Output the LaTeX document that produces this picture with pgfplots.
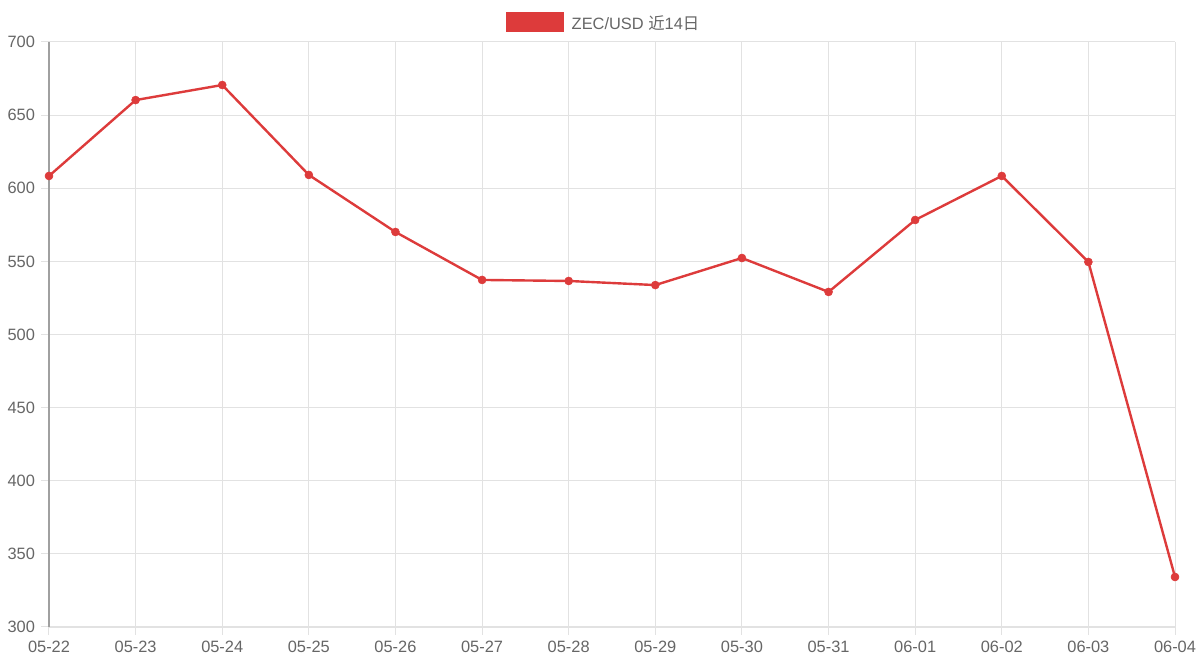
\documentclass[border=0pt]{standalone}
\usepackage{pgfplots}
\pgfplotsset{compat=1.18}
\usepackage{fontspec}
\setmainfont{Liberation Sans}
\newfontfamily\cjk{Noto Sans CJK SC}

\definecolor{zecred}{RGB}{221,59,59}
\definecolor{gridgray}{RGB}{226,226,226}
\definecolor{axisgray}{RGB}{160,160,160}
\definecolor{labelgray}{RGB}{102,102,102}

\begin{document}
\begin{tikzpicture}[x=1pt,y=1pt]
  \begin{axis}[
    at={(0,0)}, anchor=south west,
    scale only axis,
    width=844.5pt, height=438.75pt,
    xmin=0, xmax=13, ymin=300, ymax=700,
    xtick={0,...,13},
    xticklabels={05-22,05-23,05-24,05-25,05-26,05-27,05-28,05-29,05-30,05-31,06-01,06-02,06-03,06-04},
    ytick={300,350,...,700},
    axis lines*=left,
    x axis line style={gridgray, line width=0.8pt, -},
    y axis line style={axisgray, line width=0.8pt, -},
    grid=major,
    major grid style={gridgray, line width=0.75pt},
    tick align=outside,
    major tick length=6pt,
    tick style={gridgray, line width=0.75pt},
    tick label style={font=\fontsize{12.3}{14}\selectfont, text=labelgray},
    /pgf/number format/assume math mode=true,
    yticklabel style={xshift=-1pt},
    xticklabel style={yshift=-1pt},
    legend style={at={(0.5,1)}, anchor=south, xshift=-6pt, yshift=6pt, draw=none, fill=none,
      font=\fontsize{12.3}{14}\selectfont, text=labelgray, inner sep=0pt},
    legend image code/.code={\fill[zecred] (0pt,-6pt) rectangle (41.5pt,7.5pt);},
    legend cell align=left,
  ]
    \addplot[zecred, line width=1.8pt, mark=*, mark size=3pt,
      mark options={fill=zecred, draw=zecred, line width=0.4pt, solid}]
      coordinates {
        (0,608.4) (1,660.3) (2,670.6) (3,609.1) (4,570.1) (5,537.3) (6,536.6)
        (7,533.8) (8,552.3) (9,529.1) (10,578.3) (11,608.4) (12,549.6) (13,334.2)
      };
    \addlegendentry{\hspace{4pt}ZEC/USD {\cjk 近}14{\cjk 日}}
  \end{axis}
  \pgfresetboundingbox
  \path (-36.75pt,-30pt) rectangle (863.25pt,470.25pt);
\end{tikzpicture}
\end{document}
